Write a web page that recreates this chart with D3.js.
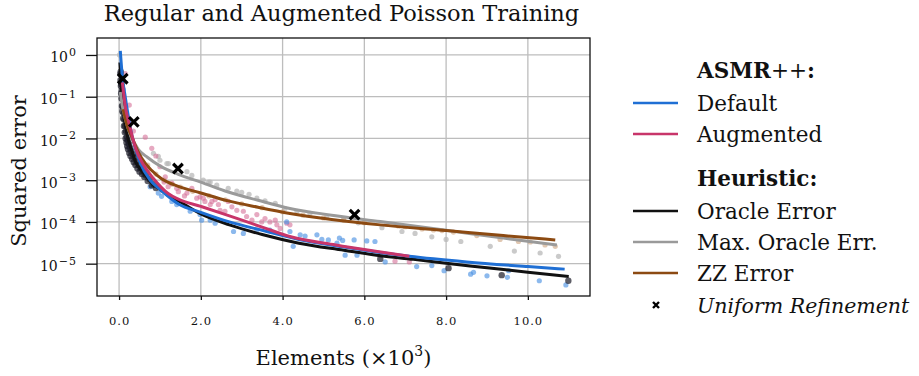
<!DOCTYPE html>
<html>
<head>
<meta charset="utf-8">
<script src="https://cdn.jsdelivr.net/npm/d3@7"></script>
<style>
  html, body { margin: 0; padding: 0; background: #fff; }
  svg { display: block; }
  text { font-family: "DejaVu Serif", "Liberation Serif", serif; fill: #111; }
</style>
</head>
<body>
<svg id="chart" width="919" height="376"></svg>
<script>
// ---------------- data (x in thousands of elements, y = squared error) ----------------
const xTickValues = [0, 2, 4, 6, 8, 10];
const xTickLabels = ["0.0", "2.0", "4.0", "6.0", "8.0", "10.0"];
const yTickValues = [1, 1e-1, 1e-2, 1e-3, 1e-4, 1e-5];
const yTickExponents = ["0", "\u22121", "\u22122", "\u22123", "\u22124", "\u22125"];

const seriesNames = ["Default", "Augmented", "Oracle Error", "Max. Oracle Err.", "ZZ Error"];

const defaultLine = [[0.03,1.25],[0.08,0.3],[0.15,0.1],[0.32,0.011],[0.52,0.0026],[0.76,0.001],[1.0,6e-4],[1.45,2.7e-4],[2.0,1.7e-4],[2.7,1.0e-4],[3.5,6.3e-5],[4.4,3.8e-5],[5.5,2.5e-5],[7.1,1.5e-5],[8.5,1.1e-5],[10.0,8.5e-6],[10.9,7.4e-6]];
const augmentedLine = [[0.08,0.22],[0.15,0.06],[0.25,0.022],[0.4,0.006],[0.6,0.0023],[0.84,0.0011],[1.2,4.8e-4],[1.45,3.5e-4],[2.0,2.35e-4],[2.7,1.4e-4],[3.5,7.5e-5],[4.2,4.4e-5],[5.3,2.8e-5],[6.4,1.9e-5],[7.1,1.5e-5]];
const oracleLine = [[0.02,0.66],[0.05,0.2],[0.1,0.05],[0.2,0.012],[0.3,0.0055],[0.4,0.0028],[0.6,0.0015],[0.8,8.5e-4],[1.0,6e-4],[1.17,4.5e-4],[1.5,3e-4],[2.0,1.55e-4],[2.7,8.5e-5],[3.5,5e-5],[4.4,3.1e-5],[5.5,2.1e-5],[6.4,1.55e-5],[7.2,1.27e-5],[8.0,1.02e-5],[9.0,8e-6],[10.0,6.2e-6],[11.0,4.9e-6]];
const maxOracleLine = [[0.03,0.13],[0.08,0.06],[0.15,0.03],[0.28,0.012],[0.47,0.0055],[0.7,0.0035],[1.0,0.0022],[1.45,0.00138],[2.0,9e-4],[2.67,5.2e-4],[3.4,3.3e-4],[4.18,2.1e-4],[5.2,1.45e-4],[6.39,1.02e-4],[8.0,6.3e-5],[9.4,4.1e-5],[10.71,2.8e-5]];
const zzLine = [[0.1,0.05],[0.2,0.02],[0.31,0.011],[0.45,0.0052],[0.55,0.0034],[0.8,0.0017],[1.04,1.08e-3],[1.45,7.1e-4],[1.98,5.0e-4],[2.67,3.2e-4],[3.4,2.25e-4],[4.18,1.6e-4],[5.2,1.15e-4],[6.39,8.5e-5],[8.0,6.2e-5],[9.4,4.7e-5],[10.67,3.7e-5]];

const uniformRefinement = [[0.09,0.27],[0.36,0.025],[1.44,0.0019],[5.76,1.5e-4]];

const defaultPts = [[0.1,0.15],[0.13,0.07],[0.2,0.03],[0.25,0.018],[0.45,0.004],[0.76,7e-4],[0.96,4.9e-4],[1.04,4.1e-4],[1.29,3.1e-4],[1.41,2.6e-4],[1.74,1.8e-4],[1.98,1.5e-4],[2.23,1.1e-4],[2.35,9.3e-5],[2.02,1.1e-4],[2.8,5.9e-5],[3.04,5.3e-5],[3.37,6.4e-5],[3.69,6.4e-5],[4.1,1.0e-4],[4.18,5.9e-5],[4.26,2.6e-5],[4.43,4.9e-5],[4.55,4.6e-5],[4.84,4.9e-5],[4.96,3.8e-5],[5.12,3.7e-5],[5.33,3.1e-5],[5.39,4.1e-5],[5.47,3.6e-5],[5.53,1.6e-5],[5.75,3.7e-5],[5.82,1.6e-5],[6.06,3.5e-5],[6.26,3.4e-5],[6.51,1.1e-5],[7.28,8.5e-6],[7.65,9e-6],[7.95,6.8e-6],[8.6,5.6e-6],[8.67,6.2e-6],[9.0,5.1e-6],[9.5,4.7e-6],[9.53,6.8e-6],[10.28,3.9e-6],[10.93,3.1e-6]];
const augmentedPts = [[0.15,0.36],[0.25,0.063],[0.35,0.015],[0.64,0.0107],[0.8,0.0058],[0.9,0.0038],[0.5,0.003],[0.6,0.0025],[0.7,0.0018],[1.0,0.0021],[1.13,0.0012],[1.1,9e-4],[1.2,7e-4],[1.29,8.5e-4],[1.41,6.4e-4],[1.45,5.3e-4],[1.6,4.2e-4],[1.66,4.9e-4],[1.78,6.4e-4],[1.9,3.7e-4],[1.98,4.0e-4],[2.06,3.7e-4],[2.1,3.1e-4],[2.23,2.6e-4],[2.27,3.1e-4],[2.35,3.4e-4],[2.43,2.6e-4],[2.47,1.9e-4],[2.59,1.8e-4],[2.67,3.1e-4],[2.76,2.3e-4],[2.88,1.9e-4],[3.04,1.8e-4],[3.12,1.35e-4],[3.25,1.1e-4],[3.37,1.5e-4],[3.49,1.0e-4],[3.57,1.2e-4],[3.69,1.0e-4],[3.82,1.1e-4],[3.86,8.5e-5],[3.94,7e-5],[4.1,9.3e-5],[4.18,8.5e-5],[6.4,1.6e-5],[6.75,1.15e-5],[7.1,1.1e-5]];
const oraclePts = [[0.03,0.35],[0.035,0.25],[0.04,0.4],[0.045,0.18],[0.05,0.12],[0.055,0.2],[0.06,0.09],[0.065,0.14],[0.07,0.06],[0.075,0.1],[0.08,0.045],[0.09,0.06],[0.1,0.03],[0.11,0.04],[0.12,0.02],[0.13,0.028],[0.14,0.014],[0.15,0.02],[0.16,0.01],[0.17,0.015],[0.18,0.008],[0.19,0.011],[0.2,0.0065],[0.21,0.009],[0.22,0.0055],[0.24,0.0075],[0.25,0.0045],[0.27,0.006],[0.28,0.0038],[0.3,0.005],[0.32,0.0032],[0.34,0.0042],[0.36,0.0027],[0.38,0.0035],[0.4,0.0023],[0.43,0.0028],[0.45,0.0019],[0.48,0.0023],[0.5,0.0016],[0.53,0.0019],[0.56,0.0014],[0.6,0.0016],[0.62,0.0012],[0.66,0.0013],[0.7,9.5e-4],[0.75,1.05e-3],[0.8,7.5e-4],[0.85,8e-4],[0.9,6.5e-4],[6.39,1.3e-5],[8.06,7.8e-6],[9.36,5.3e-6],[10.99,3.9e-6]];
const maxOraclePts = [[0.01,1.0],[0.84,0.0044],[0.96,0.0037],[1.0,0.003],[1.17,0.0025],[1.21,0.0025],[1.66,0.0016],[1.78,0.0013],[2.06,0.001],[2.19,9e-4],[2.23,9e-4],[2.39,7.6e-4],[2.67,6.4e-4],[2.88,5.5e-4],[3.0,5.1e-4],[3.18,4.6e-4],[3.37,3.7e-4],[3.57,3.2e-4],[3.82,2.8e-4],[4.06,2.1e-4],[4.35,1.8e-4],[4.67,1.6e-4],[5.08,1.35e-4],[5.49,1.2e-4],[5.85,9.5e-5],[6.43,7.3e-5],[6.92,5.9e-5],[7.24,5.3e-5],[7.65,4.4e-5],[8.0,3.8e-5],[8.36,3.4e-5],[9.08,2.6e-5],[9.67,2.0e-5],[10.3,1.8e-5],[10.75,1.5e-5]];
const zzPts = [[0.5,0.004],[0.7,0.0023],[0.9,0.0014],[1.1,1.0e-3],[1.3,8e-4],[1.5,6.8e-4],[1.8,5.4e-4],[2.2,4.2e-4],[2.6,3.4e-4],[3.0,2.7e-4],[3.5,2.2e-4],[4.0,1.75e-4],[4.5,1.45e-4],[5.0,1.25e-4],[5.5,1.1e-4],[6.0,9.6e-5],[6.55,8.8e-5],[6.83,8e-5],[7.0,7.7e-5],[7.41,6.8e-5],[7.69,6.4e-5],[7.9,6.2e-5],[8.18,5.7e-5],[8.75,4.7e-5],[9.32,3.8e-5],[9.77,3.4e-5],[10.06,3.3e-5],[10.42,2.8e-5],[10.67,2.6e-5]];

// ---------------- styles ----------------
const colors = {
  "Default": "#1f6fd4",
  "Augmented": "#c8356a",
  "Oracle Error": "#111111",
  "Max. Oracle Err.": "#9a9a9a",
  "ZZ Error": "#8c4a12"
};
const ptColors = {
  "Default": "#4f93e3",
  "Augmented": "#d66f98",
  "Oracle Error": "#1a1a26",
  "Max. Oracle Err.": "#b8b8b8",
  "ZZ Error": "#c89b72"
};

// ---------------- layout ----------------
const svg = d3.select("#chart");
const plot = {left: 97, right: 590, top: 38, bottom: 296};

const x = d3.scaleLinear().domain([-0.54, 11.52]).range([plot.left, plot.right]);
const y = d3.scaleLog().domain([1.68e-6, 2.55]).range([plot.bottom, plot.top]);

svg.append("defs").append("clipPath").attr("id", "clip")
  .append("rect").attr("x", plot.left).attr("y", plot.top)
  .attr("width", plot.right - plot.left).attr("height", plot.bottom - plot.top);

// grid
const grid = svg.append("g");
grid.selectAll("line.gx").data(xTickValues).join("line")
  .attr("x1", d => x(d)).attr("x2", d => x(d))
  .attr("y1", plot.top).attr("y2", plot.bottom)
  .attr("stroke", "#bdbdbd").attr("stroke-width", 1.3);
grid.selectAll("line.gy").data(yTickValues).join("line")
  .attr("y1", d => y(d)).attr("y2", d => y(d))
  .attr("x1", plot.left).attr("x2", plot.right)
  .attr("stroke", "#bdbdbd").attr("stroke-width", 1.3);

const body = svg.append("g").attr("clip-path", "url(#clip)");

// scatter points
const scatterSets = [
  ["Max. Oracle Err.", maxOraclePts, 0.75, 2.6],
  ["ZZ Error", zzPts, 0.55, 2.6],
  ["Augmented", augmentedPts, 0.6, 2.6],
  ["Default", defaultPts, 0.65, 2.6],
  ["Oracle Error", oraclePts, 0.7, 3.2]
];
scatterSets.forEach(([name, pts, op, r]) => {
  body.append("g").selectAll("circle").data(pts).join("circle")
    .attr("cx", d => x(d[0])).attr("cy", d => y(d[1]))
    .attr("r", r)
    .attr("fill", ptColors[name]).attr("fill-opacity", op);
});

// lines
const line = d3.line().x(d => x(d[0])).y(d => y(d[1])).curve(d3.curveMonotoneX);
const lineSets = [
  ["Oracle Error", oracleLine],
  ["Default", defaultLine],
  ["Max. Oracle Err.", maxOracleLine],
  ["ZZ Error", zzLine],
  ["Augmented", augmentedLine]
];
lineSets.forEach(([name, data]) => {
  body.append("path").datum(data)
    .attr("d", line)
    .attr("fill", "none")
    .attr("stroke", colors[name])
    .attr("stroke-width", 3)
    .attr("stroke-linejoin", "round")
    .attr("stroke-linecap", "butt");
});

// uniform refinement markers
const crossPath = (s) => `M${-s},${-s}L${s},${s}M${-s},${s}L${s},${-s}`;
body.append("g").selectAll("path").data(uniformRefinement).join("path")
  .attr("transform", d => `translate(${x(d[0])},${y(d[1])})`)
  .attr("d", crossPath(4.8))
  .attr("stroke", "#000").attr("stroke-width", 3.2).attr("fill", "none");

// frame
svg.append("rect")
  .attr("x", plot.left).attr("y", plot.top)
  .attr("width", plot.right - plot.left).attr("height", plot.bottom - plot.top)
  .attr("fill", "none").attr("stroke", "#111").attr("stroke-width", 1.3);

// x axis
const xAxis = d3.axisBottom(x).tickValues(xTickValues)
  .tickFormat((d, i) => xTickLabels[i]).tickSize(4).tickPadding(17);
const gx = svg.append("g").attr("transform", `translate(0,${plot.bottom})`).call(xAxis);
gx.select(".domain").remove();
gx.selectAll(".tick line").attr("stroke", "#111").attr("stroke-width", 1.3);
gx.selectAll(".tick text")
  .style("font-family", '"DejaVu Serif", serif')
  .style("font-size", "11.5px").style("letter-spacing", "1px").attr("fill", "#222");

// y axis
const yAxis = d3.axisLeft(y).tickValues(yTickValues).tickFormat(() => "").tickSize(11);
const gy = svg.append("g").attr("transform", `translate(${plot.left},0)`).call(yAxis);
gy.select(".domain").remove();
gy.selectAll(".tick line").attr("stroke", "#111").attr("stroke-width", 1.3);
gy.selectAll(".tick").each(function(d, i) {
  const t = d3.select(this).append("text")
    .attr("x", -20).attr("y", 7).attr("text-anchor", "end")
    .style("font-size", "14px").attr("fill", "#222");
  t.append("tspan").text("10");
  t.append("tspan").attr("dx", 1).attr("dy", -6.5).style("font-size", "11px")
    .style("letter-spacing", "1px").text(yTickExponents[i]);
});

// title
svg.append("text")
  .attr("x", (plot.left + plot.right) / 2 - 2).attr("y", 21)
  .attr("text-anchor", "middle")
  .style("font-size", "22.5px")
  .text("Regular and Augmented Poisson Training");

// axis labels
const xl = svg.append("text")
  .attr("x", (plot.left + plot.right) / 2).attr("y", 365)
  .attr("text-anchor", "middle").style("font-size", "21px");
xl.append("tspan").text("Elements (\u00d710");
xl.append("tspan").attr("dy", -9).style("font-size", "14px").text("3");
xl.append("tspan").attr("dy", 9).text(")");

svg.append("text")
  .attr("transform", "translate(26,171) rotate(-90)")
  .attr("text-anchor", "middle").style("font-size", "21px")
  .text("Squared error");

// legend
const legend = svg.append("g");
const lgX0 = 633, lgX1 = 678, lgText = 697;
const h1 = legend.append("text").attr("x", lgText).attr("y", 78).style("font-size", "21.5px");
h1.append("tspan").style("font-weight", "bold").text("ASMR");
h1.append("tspan").text("++");
h1.append("tspan").style("font-weight", "bold").text(":");

legend.append("text").attr("x", lgText).attr("y", 186).style("font-size", "21.5px")
  .style("font-weight", "bold").text("Heuristic:");

const legendRows = [
  ["Default", 103],
  ["Augmented", 134],
  ["Oracle Error", 211],
  ["Max. Oracle Err.", 242],
  ["ZZ Error", 273]
];
legendRows.forEach(([name, yy]) => {
  legend.append("line").attr("x1", lgX0).attr("x2", lgX1).attr("y1", yy).attr("y2", yy)
    .attr("stroke", colors[name]).attr("stroke-width", 2.6);
  legend.append("text").attr("x", lgText).attr("y", yy + 7.5)
    .style("font-size", "21.5px").text(name);
});
legend.append("path").attr("transform", "translate(656,305)")
  .attr("d", crossPath(3)).attr("stroke", "#000").attr("stroke-width", 2.4);
legend.append("text").attr("x", lgText).attr("y", 312.5)
  .style("font-size", "20.5px").style("font-style", "italic").text("Uniform Refinement");
</script>
</body>
</html>
